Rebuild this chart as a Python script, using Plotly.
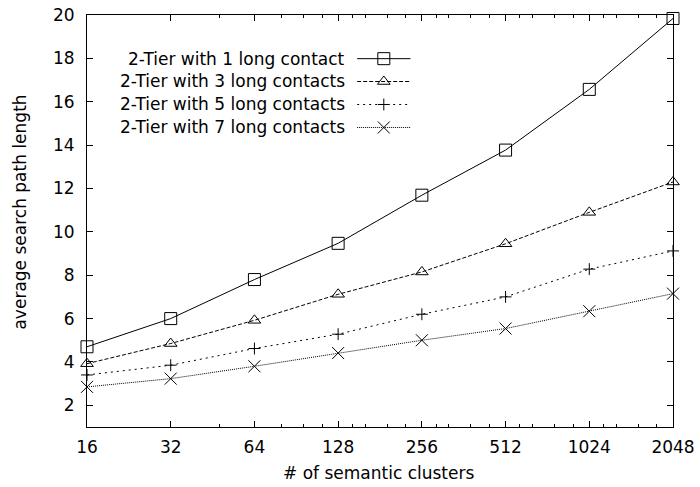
import math
import plotly.graph_objects as go

clusters = [16, 32, 64, 128, 256, 512, 1024, 2048]
one_contact = [4.7, 6.0, 7.8, 9.47, 11.69, 13.77, 16.57, 19.84]
three_contacts = [3.92, 4.85, 5.92, 7.12, 8.15, 9.45, 10.9, 12.3]
five_contacts = [3.4, 3.85, 4.62, 5.28, 6.2, 7.0, 8.28, 9.12]
seven_contacts = [2.85, 3.23, 3.8, 4.41, 5.0, 5.54, 6.34, 7.15]

series_names = ["2-Tier with 1 long contact", "2-Tier with 3 long contacts",
                "2-Tier with 5 long contacts", "2-Tier with 7 long contacts"]
series_values = [one_contact, three_contacts, five_contacts, seven_contacts]
x_ticks = [16, 32, 64, 128, 256, 512, 1024, 2048]
x_minor = [48, 80, 96, 112, 144, 160, 192, 224, 288, 320, 384, 448,
           576, 640, 768, 896, 1152, 1280, 1536, 1792]
y_ticks = [2, 4, 6, 8, 10, 12, 14, 16, 18, 20]

symbols = ["square-open", "triangle-up-open", "cross-thin-open", "x-thin-open"]
sizes = [12, 11, 8.5, 12]
dashes = ["solid", "4px,2px", "2px,4px", "1px,1px"]

FONT = "DejaVu Sans, sans-serif"
FS = 17
fig = go.Figure()
for name, vals, sym, sz, dash in zip(series_names, series_values, symbols, sizes, dashes):
    fig.add_trace(go.Scatter(
        x=clusters, y=vals, mode="lines+markers", name=name,
        line=dict(color="black", width=1, dash=dash),
        marker=dict(symbol=sym, size=sz, color="black", line=dict(color="black", width=1)),
        showlegend=False, cliponaxis=False))

# gnuplot-style key (text left, sample right) on hidden overlay axes
key_text_x = 0.443
key_x0, key_x1 = 0.461, 0.552
key_rows = [0.894, 0.8386, 0.7828, 0.727]
for name, sym, sz, dash, ky in zip(series_names, symbols, sizes, dashes, key_rows):
    fig.add_trace(go.Scatter(x=[key_x0, key_x1], y=[ky, ky], mode="lines",
                             line=dict(color="black", width=1, dash=dash),
                             xaxis="x2", yaxis="y2", showlegend=False, hoverinfo="skip"))
    fig.add_trace(go.Scatter(x=[(key_x0 + key_x1) / 2], y=[ky], mode="markers",
                             marker=dict(symbol=sym, size=sz, color="black",
                                         line=dict(color="black", width=1)),
                             xaxis="x2", yaxis="y2", showlegend=False, hoverinfo="skip"))
    fig.add_annotation(x=key_text_x, y=ky, xref="paper", yref="paper", text=name,
                       showarrow=False, xanchor="right", yanchor="middle",
                       font=dict(family=FONT, size=FS, color="black"))

fig.add_annotation(x=0.498, y=-0.112, xref="paper", yref="paper", text="# of semantic clusters",
                   showarrow=False, xanchor="center", yanchor="middle",
                   font=dict(family=FONT, size=FS, color="black"))
fig.add_annotation(x=-0.114, y=0.521, xref="paper", yref="paper", text="average search path length",
                   showarrow=False, xanchor="center", yanchor="middle", textangle=-90,
                   font=dict(family=FONT, size=FS, color="black"))

eps = 1e-6
fig.update_layout(
    width=700, height=487, plot_bgcolor="white", paper_bgcolor="white",
    margin=dict(l=87, r=27, t=15, b=60, autoexpand=False),
    font=dict(family=FONT, size=FS, color="black"),
    xaxis=dict(type="log", range=[math.log10(min(clusters)) - eps, math.log10(max(clusters)) + eps],
               tickvals=x_ticks, ticktext=[str(v) for v in x_ticks],
               ticks="inside", ticklen=6, tickcolor="black", showline=True, linecolor="black",
               linewidth=1, mirror="ticks", showgrid=False, zeroline=False, automargin=False,
               ticklabelstandoff=5,
               minor=dict(tickvals=x_minor, ticks="inside", ticklen=3, tickcolor="black", showgrid=False)),
    yaxis=dict(range=[1, 20], tickvals=y_ticks, ticks="inside", ticklen=6, tickcolor="black",
               showline=True, linecolor="black", linewidth=1, mirror="ticks",
               showgrid=False, zeroline=False, automargin=False, ticklabelstandoff=8),
    xaxis2=dict(range=[0, 1], overlaying="x", visible=False),
    yaxis2=dict(range=[0, 1], overlaying="y", visible=False),
)

fig.write_html("out.html", config={"displayModeBar": False},
               post_script="document.body.style.margin='0px';")
